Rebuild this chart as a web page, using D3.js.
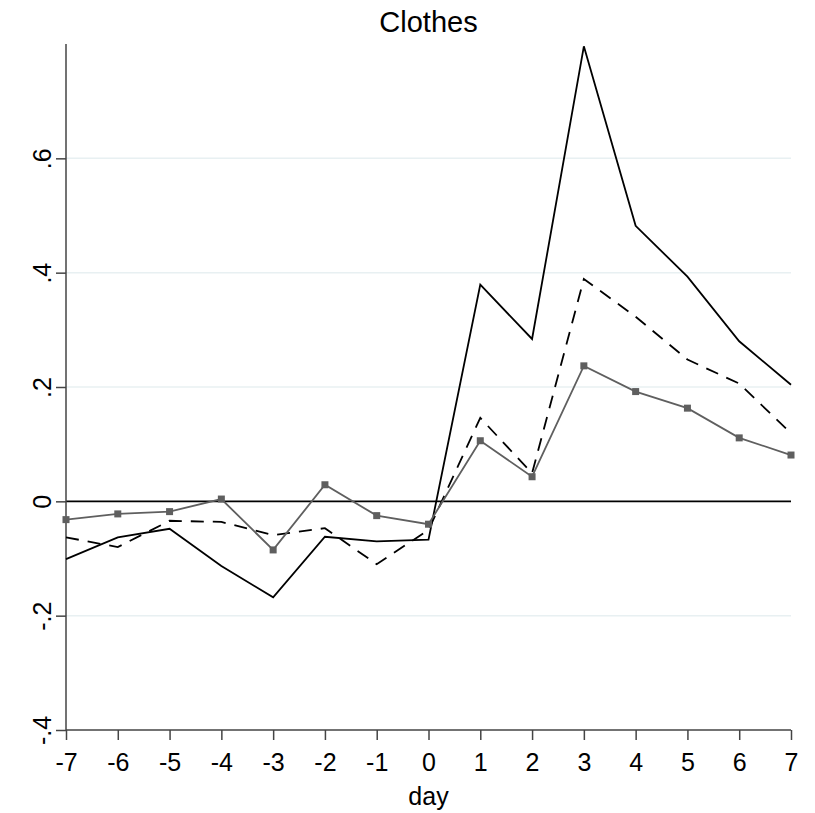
<!DOCTYPE html>
<html><head><meta charset="utf-8">
<script src="https://cdn.jsdelivr.net/npm/d3@7"></script>
<style>body{margin:0;background:#fff}</style>
</head><body>
<script>
const days = [-7,-6,-5,-4,-3,-2,-1,0,1,2,3,4,5,6,7];
const solidSeries = [-0.101,-0.063,-0.048,-0.113,-0.168,-0.062,-0.070,-0.067,0.379,0.284,0.796,0.482,0.393,0.280,0.204];
const dashedSeries = [-0.063,-0.080,-0.034,-0.036,-0.059,-0.047,-0.110,-0.050,0.146,0.049,0.389,0.323,0.248,0.206,0.119];
const markerSeries = [-0.032,-0.022,-0.018,0.004,-0.085,0.029,-0.025,-0.040,0.106,0.043,0.237,0.192,0.163,0.111,0.081];
const yTicks = [-0.4,-0.2,0,0.2,0.4,0.6];
const yTickLabels = ["-.4","-.2","0",".2",".4",".6"];
const xTickLabels = ["-7","-6","-5","-4","-3","-2","-1","0","1","2","3","4","5","6","7"];
const title = "Clothes";
const xTitle = "day";

const W = 815, H = 813;
const svg = d3.select("body").append("svg").attr("width", W).attr("height", H);
const font = "'Liberation Sans',Arial,Helvetica,sans-serif";

const x = d3.scaleLinear().domain([-7,7]).range([66,791]);
const y = d3.scaleLinear().domain([-0.4,0.8]).range([730,44]);

// gridlines
svg.append("g").selectAll("line").data(yTicks.filter(v=>v!==-0.4 && v!==0)).join("line")
  .attr("x1", x(-7)).attr("x2", x(7)).attr("y1", d=>y(d)).attr("y2", d=>y(d))
  .attr("stroke", "#e8f0f2").attr("stroke-width", 1.5);

// zero line
svg.append("line").attr("x1", x(-7)).attr("x2", x(7)).attr("y1", y(0)).attr("y2", y(0))
  .attr("stroke", "#000").attr("stroke-width", 1.6);

// axes
const yAxis = d3.axisLeft(y).tickValues(yTicks).tickFormat((d,i)=>yTickLabels[i]).tickSize(10).tickPadding(12);
const gy = svg.append("g").attr("transform", `translate(${x(-7)},0)`).call(yAxis);
gy.select(".domain").attr("d", `M0,${y(0.8)}V${y(-0.4)}`).attr("stroke","#444").attr("stroke-width",1.5);
gy.selectAll(".tick line").attr("stroke","#444").attr("stroke-width",1.5);
gy.selectAll(".tick text")
  .attr("font-family", font).attr("font-size", 25).attr("fill","#000")
  .attr("text-anchor","middle")
  .attr("transform", "translate(-24,0) rotate(-90)")
  .attr("x", 0).attr("dy", "0.35em");

const xAxis = d3.axisBottom(x).tickValues(days).tickFormat((d,i)=>xTickLabels[i]).tickSize(10).tickPadding(13);
const gx = svg.append("g").attr("transform", `translate(0,${y(-0.4)})`).call(xAxis);
gx.select(".domain").attr("d", `M${x(-7)},0H${x(7)}`).attr("stroke","#444").attr("stroke-width",1.5);
gx.selectAll(".tick line").attr("stroke","#444").attr("stroke-width",1.5);
gx.selectAll(".tick text").attr("font-family", font).attr("font-size", 25).attr("fill","#000");

// lines
const line = d3.line().x((d,i)=>x(days[i])).y(d=>y(d));
svg.append("path").datum(solidSeries).attr("d", line).attr("fill","none").attr("stroke","#000").attr("stroke-width",1.8).attr("stroke-linejoin","miter");
svg.append("path").datum(dashedSeries).attr("d", line).attr("fill","none").attr("stroke","#000").attr("stroke-width",1.8).attr("stroke-dasharray","13,9");
svg.append("path").datum(markerSeries).attr("d", line).attr("fill","none").attr("stroke","#5f5f5f").attr("stroke-width",1.8);
svg.append("g").selectAll("rect").data(markerSeries).join("rect")
  .attr("x", (d,i)=>x(days[i])-3.5).attr("y", d=>y(d)-3.5).attr("width",7).attr("height",7)
  .attr("fill","#5f5f5f");

// titles
svg.append("text").attr("x", (x(-7)+x(7))/2).attr("y", 32).attr("text-anchor","middle")
  .attr("font-family", font).attr("font-size", 29).text(title);
svg.append("text").attr("x", (x(-7)+x(7))/2).attr("y", 805).attr("text-anchor","middle")
  .attr("font-family", font).attr("font-size", 25).text(xTitle);
</script>
</body></html>
